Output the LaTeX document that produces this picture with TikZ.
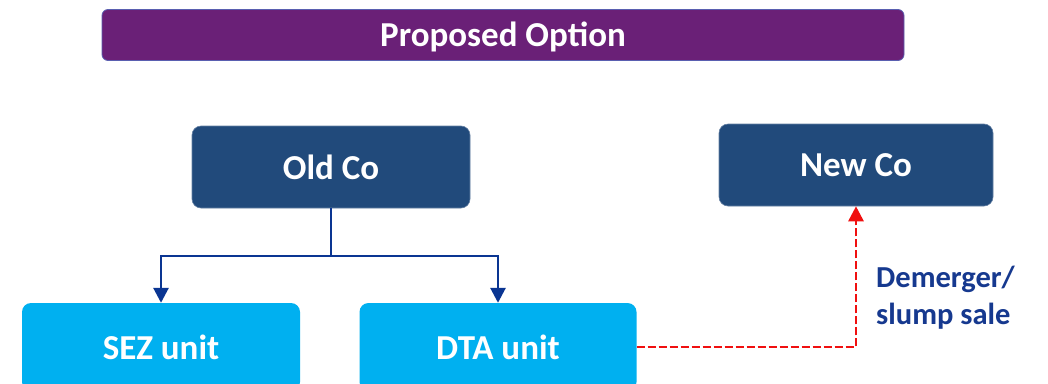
\documentclass[tikz,border=0pt]{standalone}
\usepackage{fontspec}
\setmainfont{Carlito}
\usetikzlibrary{arrows.meta}
\definecolor{titlepurple}{HTML}{6A2077}
\definecolor{titleedge}{HTML}{5A5FB0}
\definecolor{cobox}{HTML}{214A7B}
\definecolor{unitbox}{HTML}{00B0F0}
\definecolor{linkblue}{HTML}{0A3592}
\definecolor{labelblue}{HTML}{16398F}
\definecolor{splitred}{HTML}{F01010}
\tikzset{
  box/.style={rectangle, rounded corners=9pt, inner sep=0pt, text=white,
    font=\bfseries\fontsize{35}{40}\selectfont},
  cobox/.style={box, fill=cobox, draw=cobox!70!white, line width=0.6pt},
  unitbox/.style={box, fill=unitbox},
  link/.style={draw=linkblue, line width=2.8pt, -{Triangle[length=15pt,width=15pt]}},
  split/.style={draw=splitred, line width=2.8pt, dash pattern=on 8pt off 3pt,
    -{Triangle[length=15pt,width=15pt]}},
}
\begin{document}
\begin{tikzpicture}[x=1pt,y=-1pt]
  \useasboundingbox (0,0) rectangle (1048,383);
  \fill[white] (0,0) rectangle (1048,383);
  \clip (0,0) rectangle (1048,383);

  % heading bar
  \node[box, fill=titlepurple, draw=titleedge, line width=0.8pt, rounded corners=6pt,
        minimum width=802pt, minimum height=51pt] (title) at (503,35) {};
  \node[box, anchor=center] (titletext) at (503,37) {Proposed Option};

  % companies
  \node[cobox, minimum width=278pt, minimum height=82pt] (old) at (331,167) {Old Co};
  \node[cobox, minimum width=274pt, minimum height=82pt] (new) at (856,165) {New Co};

  % units (boxes run past the lower edge)
  \node[unitbox, minimum width=278pt, minimum height=88pt] (sez) at (161,347) {SEZ unit};
  \node[unitbox, minimum width=277pt, minimum height=88pt] (dta) at (498,347) {DTA unit};

  % split of Old Co into its two units
  \coordinate (fork) at (331,256);
  \draw[draw=linkblue, line width=2.8pt] (old.south) -- (fork);
  \draw[link] (fork) -| (sez.north);
  \draw[link] (fork) -| (dta.north);

  % transfer of the DTA unit to New Co
  \draw[split] (dta.east) -| (new.south);
  \node[anchor=north west, align=left, text=labelblue, inner sep=0pt,
        font=\bfseries\fontsize{30.5}{37}\selectfont] (lbl) at (876,266)
        {Demerger/\\slump sale};
\end{tikzpicture}
\end{document}
